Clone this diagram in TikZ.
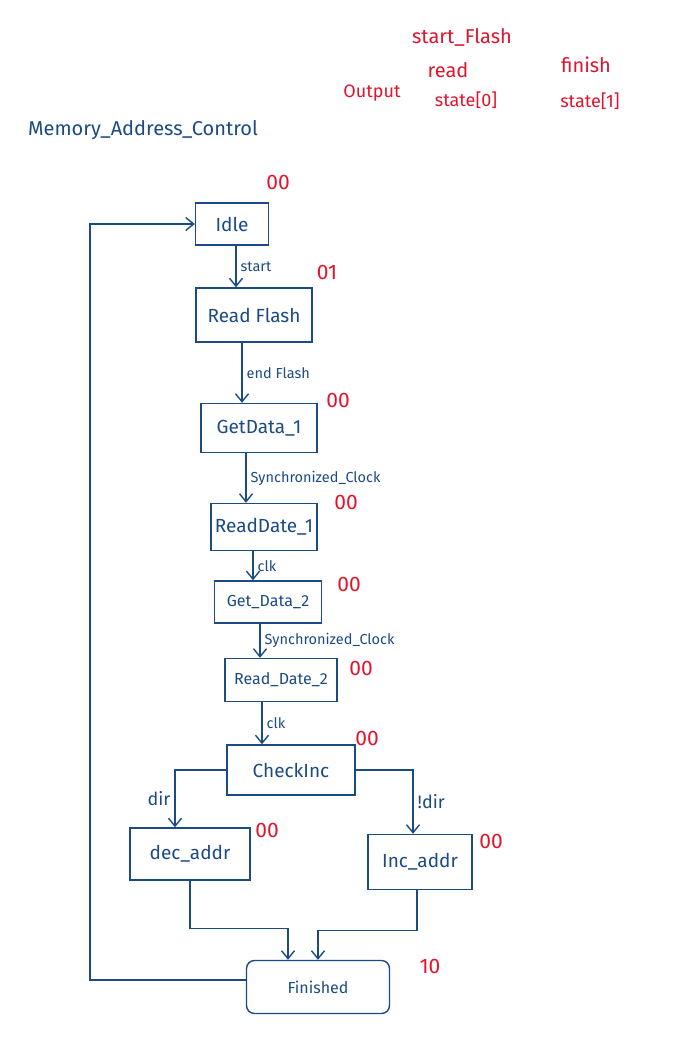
\documentclass[tikz,border=0pt]{standalone}
\usepackage{fontspec}
\setmainfont{Fira Sans}
\usetikzlibrary{arrows.meta, calc, positioning}
\definecolor{inkblue}{HTML}{1B4A85}
\definecolor{inkred}{HTML}{E0142D}

\begin{document}
\begin{tikzpicture}[x=1pt, y=1pt, line width=1.4pt, color=inkblue,
  state/.style={draw, inner sep=4pt, font=\fontsize{19}{22}\selectfont},
  small/.style={font=\fontsize{16}{19}\selectfont},
  lbl/.style={font=\fontsize{14.5}{17}\selectfont, inner sep=4pt},
  code/.style={text=inkred, font=\fontsize{21}{24}\selectfont},
  top/.style={text=inkred, font=\fontsize{20}{24}\selectfont},
  arr/.style={-{Straight Barb[length=8pt, width=13pt]}}]
    \useasboundingbox (0,0) rectangle (694,-1058);

    % Title and output table
    \node[font=\fontsize{20}{24}\selectfont] (title) at (143,-130) {Memory\_Address\_Control};
    \node[top, font=\fontsize{18}{21}\selectfont] (out) at (372,-93) {Output};
    \node[top] (sf) at (462,-37) {start\_Flash};
    \node[top] (rd) at (448,-70) {read};
    \node[top, font=\fontsize{18}{21}\selectfont] (s0) at (466,-100) {state[0]};
    \node[top] (fi) at (586,-65) {finish};
    \node[top, font=\fontsize{18}{21}\selectfont] (s1) at (590,-101) {state[1]};

    % States
    \node[state, minimum width=73, minimum height=42] (idle) at (232,-224) {Idle};
    \node[state, minimum width=116, minimum height=54] (rf) at (254,-315) {Read Flash};
    \node[state, minimum width=116, minimum height=49] (gd1) at (259,-428) {GetData\_1};
    \node[state, minimum width=102, minimum height=47] (rd1) at (264,-527) {ReadDate\_1};
    \node[state, small, minimum width=107, minimum height=42] (gd2) at (268,-602) {Get\_Data\_2};
    \node[state, small, minimum width=112, minimum height=43] (rd2) at (281,-680) {Read\_Date\_2};
    \node[state, minimum width=128, minimum height=50] (chk) at (291,-770) {CheckInc};
    \node[state, minimum width=120, minimum height=52] (dec) at (190,-854) {dec\_addr};
    \node[state, minimum width=104, minimum height=55] (inc) at (420,-862) {Inc\_addr};
    \node[state, small, rounded corners=8, minimum width=143, minimum height=53] (fin) at (318,-987) {Finished};

    % Straight transitions
    \foreach \a/\b/\dx/\lab in {idle/rf/4/start, rf/gd1/-12/end Flash,
        gd1/rd1/-13/Synchronized\_Clock, rd1/gd2/-11/clk,
        gd2/rd2/-8/Synchronized\_Clock, rd2/chk/-19/clk}
    {
    \draw[arr] ([xshift=\dx]\a.south) -- ([xshift=\dx]\a.south |- \b.north)
        node[midway, right, lbl] (lab-\a) {\lab};
    }

    % Branches
    \draw[arr] (chk.west) -| ([xshift=-15]dec.north)
        node[pos=0.75, left, lbl, font=\fontsize{18}{21}\selectfont] (ldir) {dir};
    \draw[arr] (chk.east) -| ([xshift=-7]inc.north)
        node[pos=0.75, right, lbl, font=\fontsize{18}{21}\selectfont] (lndir) {!dir};
    \draw[arr] (dec.south) -- ++(0,-48) -| ([xshift=-30]fin.north);
    \draw[arr] ([xshift=-3]inc.south) -- ++(0,-40) -| (fin.north);
    \draw[arr] ([yshift=7]fin.west) -- ++(-156,0) |- (idle.west);

    % Output codes
    \foreach \x/\y/\c [count=\i] in {278/182/00, 327/272/01, 338/400/00,
        346/502/00, 349/584/00, 361/668/00, 367/738/00, 267/830/00,
        491/841/00, 430/966/10}
    {
    \node[code] (code\i) at (\x,-\y) {\c};
    }

\end{tikzpicture}
\end{document}
